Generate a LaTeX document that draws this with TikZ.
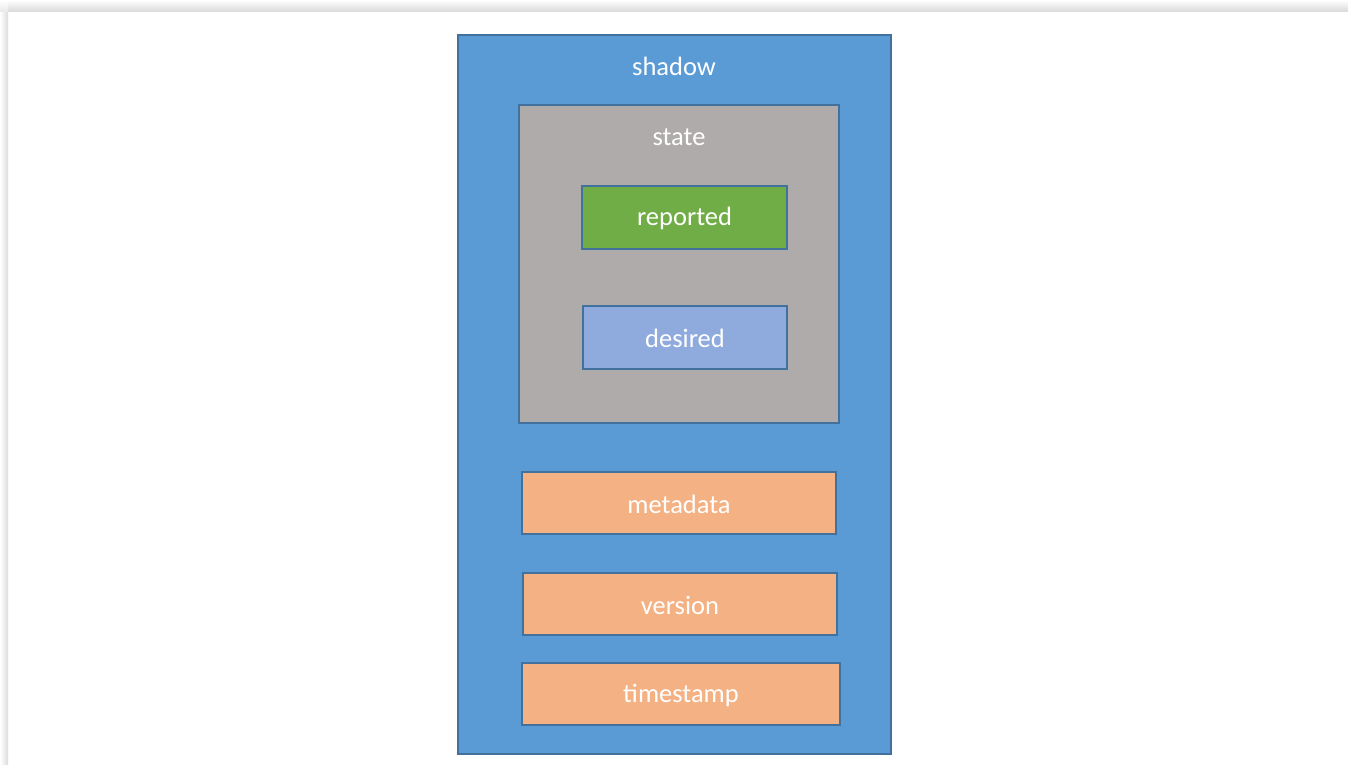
\documentclass[tikz,border=0pt]{standalone}
\usepackage{fontspec}
\setmainfont{Carlito}
\definecolor{shadowblue}{HTML}{5B9BD5}
\definecolor{edgeblue}{HTML}{41719C}
\definecolor{stategray}{HTML}{AFABAB}
\definecolor{repgreen}{HTML}{70AD47}
\definecolor{desblue}{HTML}{8FAADC}
\definecolor{peach}{HTML}{F4B183}
\tikzset{
  box/.style={draw=edgeblue, line width=1.5pt, inner sep=0pt},
  lbl/.style={text=white, font=\fontsize{26.5}{30}\selectfont, anchor=center}
}
\begin{document}
\begin{tikzpicture}[x=1pt, y=-1pt]
  % canvas and page shadow
  \fill[white] (0,0) rectangle (1348,764);
  \useasboundingbox (0,0) rectangle (1348,764);
  \shade[top color=white, bottom color=black!14] (8,0) rectangle (1348,11);
  \shade[left color=white, right color=black!14] (0,11) rectangle (8,764);
  \shade[top color=white, bottom color=black!8] (0,0) rectangle (8,11);

  % outer container
  \node[box, fill=shadowblue, minimum width=433pt, minimum height=719pt] (shadow) at (674.5,394.5) {};
  \node[lbl] (shadowlbl) at (674,66) {shadow};

  % state group
  \node[box, fill=stategray, minimum width=320pt, minimum height=318pt] (state) at (679,264) {};
  \node[lbl] (statelbl) at (679,137) {state};
  \node[box, fill=repgreen, minimum width=205pt, minimum height=63pt] (reported) at (684.5,217.5) {};
  \node[lbl] at ([yshift=-1pt]reported.center) {reported};
  \node[box, fill=desblue, minimum width=204pt, minimum height=63pt] (desired) at (685,337.5) {};
  \node[lbl] at ([yshift=-1pt]desired.center) {desired};

  % remaining fields
  \node[box, fill=peach, minimum width=314pt, minimum height=62pt] (metadata) at (679,503) {};
  \node[lbl] at ([yshift=-1pt]metadata.center) {metadata};
  \node[box, fill=peach, minimum width=314pt, minimum height=62pt] (version) at (680,604) {};
  \node[lbl] at ([yshift=-1pt]version.center) {version};
  \node[box, fill=peach, minimum width=318pt, minimum height=62pt] (timestamp) at (681,694) {};
  \node[lbl] at ([yshift=-1pt]timestamp.center) {timestamp};
\end{tikzpicture}
\end{document}
